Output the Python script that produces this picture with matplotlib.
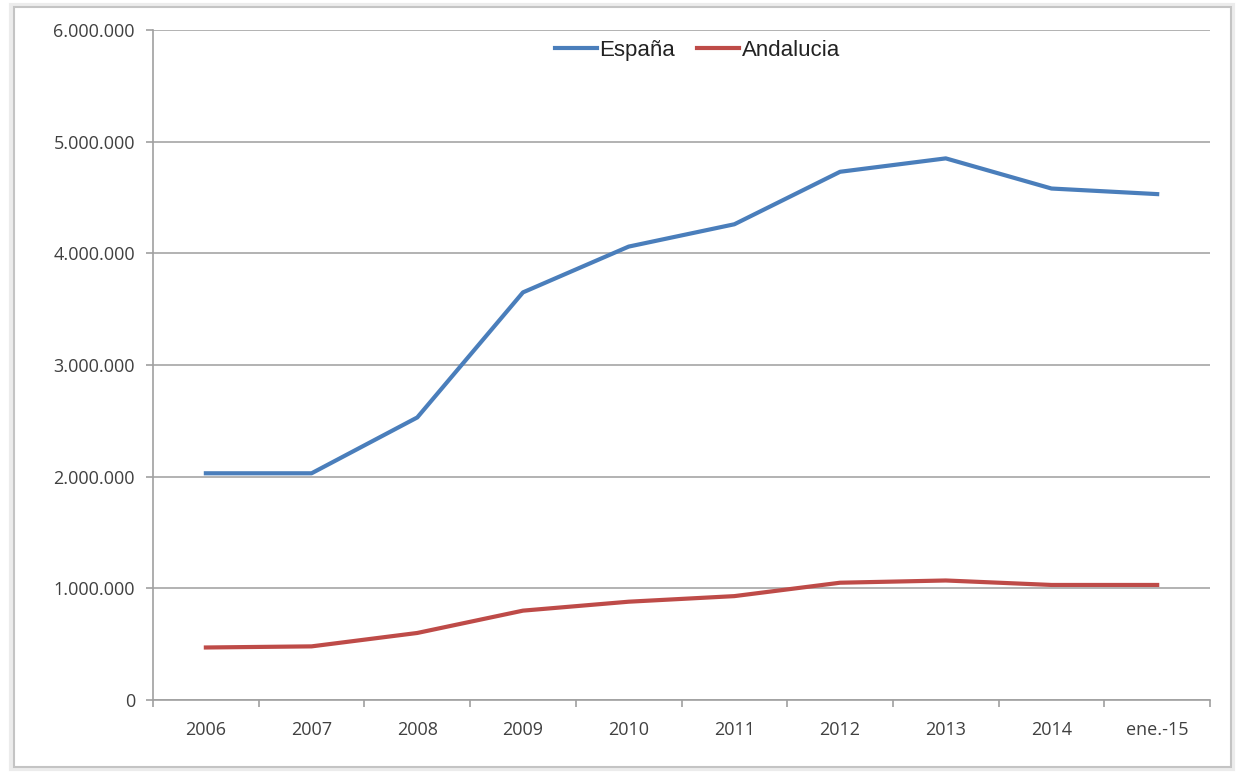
import matplotlib
matplotlib.use('Agg')
import matplotlib.pyplot as plt
from matplotlib.patches import Rectangle
from matplotlib.ticker import FuncFormatter, FixedLocator
import numpy as np

categorias = ["2006", "2007", "2008", "2009", "2010", "2011", "2012", "2013", "2014", "ene.-15"]
espana = [2030000, 2030000, 2530000, 3650000, 4060000, 4260000, 4730000, 4850000, 4580000, 4530000]
andalucia = [470000, 480000, 600000, 800000, 880000, 930000, 1050000, 1070000, 1030000, 1030000]

plt.rcParams['font.family'] = ['Open Sans', 'DejaVu Sans']

fig = plt.figure(figsize=(12.37, 7.72), dpi=100)
fig.patch.set_facecolor('white')

# Marco con sombra alrededor del gráfico
fig.patches.append(Rectangle((0.009, 0.004), 0.988, 0.99, transform=fig.transFigure,
                             facecolor='none', edgecolor='#ececec', linewidth=3, zorder=0))
fig.patches.append(Rectangle((0.011, 0.006), 0.984, 0.985, transform=fig.transFigure,
                             facecolor='none', edgecolor='#c4c4c4', linewidth=1.5, zorder=0))

ax = fig.add_axes([0.1237, 0.0933, 0.8545, 0.8679])

x = np.arange(len(categorias))
ax.plot(x, espana, color='#4A7EBB', linewidth=3, label='España')
ax.plot(x, andalucia, color='#BE4B48', linewidth=3, label='Andalucia')

ax.set_xlim(-0.5, len(categorias) - 0.5)
ax.set_ylim(0, 6000000)
ax.set_yticks(np.arange(0, 6000001, 1000000))
ax.yaxis.set_major_formatter(FuncFormatter(lambda v, p: f'{v:,.0f}'.replace(',', '.')))

ax.set_xticks(x)
ax.set_xticklabels(categorias)
ax.xaxis.set_minor_locator(FixedLocator(np.arange(-0.5, len(categorias), 1)))
ax.tick_params(axis='x', which='major', length=0, pad=15, labelsize=13, labelcolor='#404040')
ax.tick_params(axis='x', which='minor', length=5, color='#a0a0a0', width=1.2)
ax.tick_params(axis='y', length=5, color='#a0a0a0', width=1.2, pad=8, labelsize=13, labelcolor='#404040')

ax.grid(axis='y', color='#a6a6a6', linewidth=1.2)
ax.set_axisbelow(True)
for lado in ['top', 'right']:
    ax.spines[lado].set_visible(False)
for lado in ['left', 'bottom']:
    ax.spines[lado].set_color('#a0a0a0')
    ax.spines[lado].set_linewidth(1.2)

leg = ax.legend(loc='upper center', bbox_to_anchor=(0.515, 1.015), ncol=2, frameon=False,
                handlelength=1.9, handletextpad=0.1, columnspacing=1.0,
                prop={'family': ['Liberation Sans', 'DejaVu Sans'], 'size': 16})
for t in leg.get_texts():
    t.set_color('#222222')

fig.savefig('out.png', dpi=100)
